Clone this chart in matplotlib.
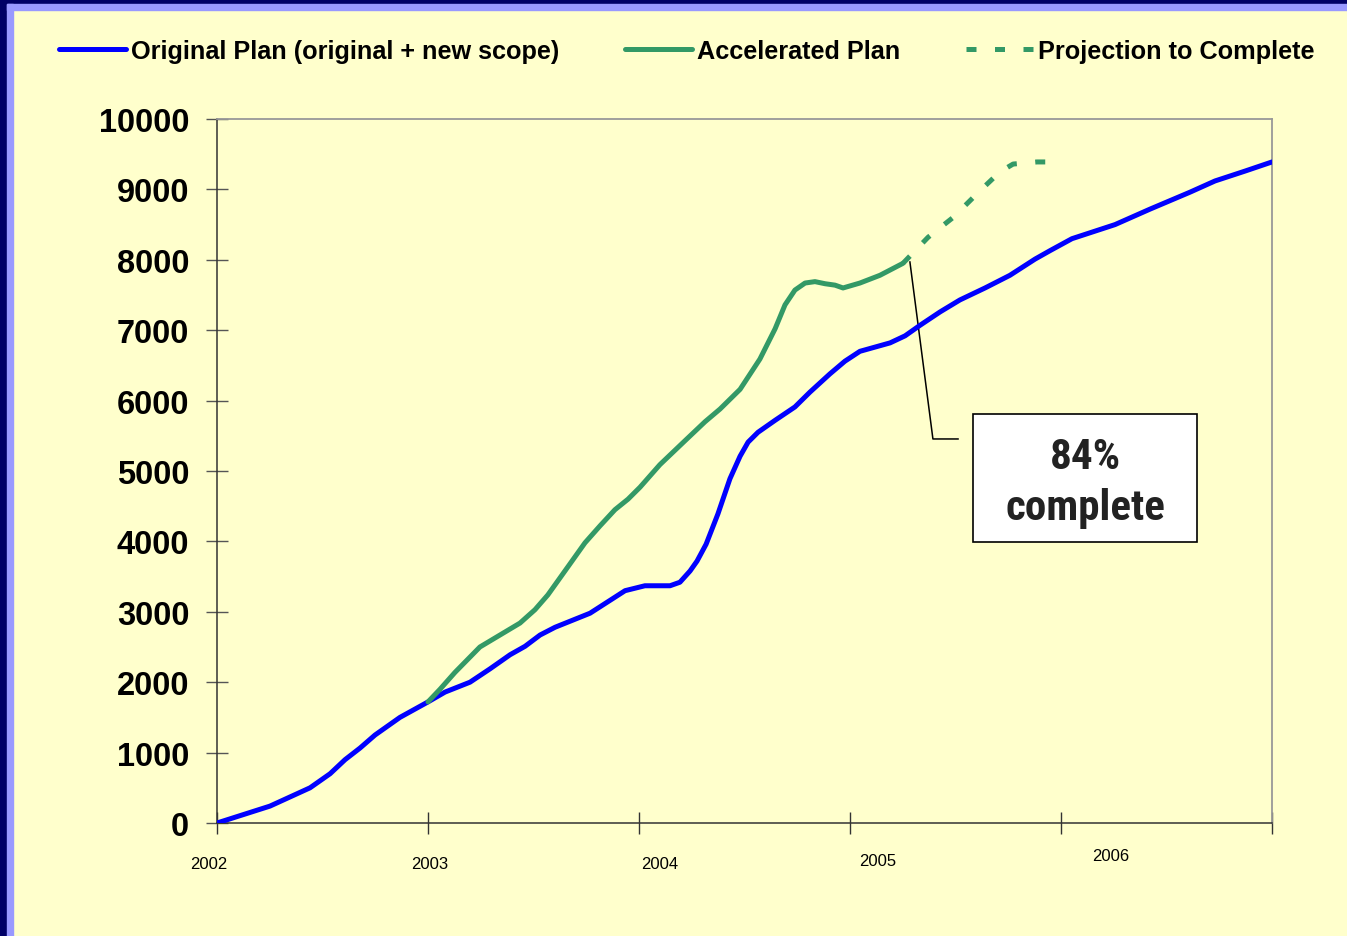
import matplotlib
matplotlib.use('Agg')
from matplotlib import pyplot as plt
from matplotlib.patches import Rectangle
from matplotlib.lines import Line2D
from matplotlib import font_manager

# --- data (time in years, cumulative count) ---
orig_t = [2002.000, 2002.251, 2002.441, 2002.536, 2002.607, 2002.678, 2002.749, 2002.867,
          2003.000, 2003.081, 2003.199, 2003.294, 2003.389, 2003.460, 2003.531, 2003.602,
          2003.768, 2003.934, 2004.028, 2004.147, 2004.194, 2004.242, 2004.275, 2004.318,
          2004.374, 2004.431, 2004.479, 2004.517, 2004.564, 2004.645, 2004.739, 2004.810,
          2004.905, 2004.976, 2005.047, 2005.190, 2005.261, 2005.332, 2005.427, 2005.521,
          2005.640, 2005.758, 2005.877, 2005.948, 2006.052, 2006.256, 2006.422, 2006.611,
          2006.730, 2006.872, 2007.000]
orig_v = [0, 240, 500, 700, 900, 1065, 1250, 1500,
          1720, 1860, 2000, 2190, 2390, 2510, 2670, 2780,
          2980, 3300, 3370, 3370, 3420, 3580, 3720, 3960,
          4390, 4890, 5210, 5410, 5550, 5720, 5910, 6120,
          6380, 6560, 6700, 6820, 6920, 7070, 7260, 7430,
          7600, 7780, 8010, 8130, 8300, 8500, 8720, 8960,
          9120, 9260, 9390]

accel_t = [2003.000, 2003.057, 2003.128, 2003.246, 2003.341, 2003.436, 2003.507, 2003.568,
           2003.649, 2003.744, 2003.815, 2003.886, 2003.948, 2004.005, 2004.099, 2004.218,
           2004.313, 2004.384, 2004.479, 2004.573, 2004.645, 2004.692, 2004.739, 2004.787,
           2004.834, 2004.882, 2004.929, 2004.967, 2005.047, 2005.142, 2005.251]
accel_v = [1720, 1900, 2140, 2500, 2670, 2840, 3030, 3240,
           3580, 3980, 4220, 4450, 4600, 4770, 5090, 5430,
           5700, 5880, 6160, 6590, 7020, 7360, 7570, 7670,
           7690, 7660, 7640, 7600, 7670, 7780, 7950]

proj_t = [2005.251, 2005.370, 2005.488, 2005.616, 2005.711, 2005.773, 2005.886, 2005.934]
proj_v = [7950, 8320, 8600, 8980, 9250, 9360, 9390, 9390]

year_ticks = [2002, 2003, 2004, 2005, 2006, 2007]
year_labels = ['2002', '2003', '2004', '2005', '2006']
# where the year captions sit (they are not centred on the ticks in the original)
year_label_x = [2001.962, 2003.009, 2004.100, 2005.133, 2006.237]
year_label_y = [-570, -570, -570, -530, -460]
y_ticks = list(range(0, 10001, 1000))

labels = ['Original Plan (original + new scope)', 'Accelerated Plan', 'Projection to Complete']

BG = '#FFFFCC'
BLUE = '#0000FF'
GREEN = '#339966'
SANS = ['Liberation Sans', 'DejaVu Sans']

# narrow bold face for the call-out, if one is around
names = set(f.name for f in font_manager.fontManager.ttflist)
NARROW = None
for cand in ['Liberation Sans Narrow', 'Arial Narrow', 'Roboto Condensed', 'Open Sans Condensed']:
    if cand in names:
        NARROW = cand
        break
if NARROW:
    box_font = dict(family=NARROW, fontsize=31)
else:
    box_font = dict(family='DejaVu Sans', fontstretch='condensed', fontsize=25)

W, H = 1347, 937
fig = plt.figure(figsize=(W / 100, H / 100), dpi=100, facecolor=BG)

# slide frame (navy + lavender edge on top and left)
fig.patches.append(Rectangle((0, 0), 7 / W, 1, transform=fig.transFigure, color='#000066', zorder=0))
fig.patches.append(Rectangle((0, 1 - 5 / H), 1, 5 / H, transform=fig.transFigure, color='#000066', zorder=0))
fig.patches.append(Rectangle((7 / W, 0), 6 / W, 1 - 5 / H, transform=fig.transFigure, color='#9999FF', zorder=0))
fig.patches.append(Rectangle((7 / W, 1 - 11 / H), 1, 6 / H, transform=fig.transFigure, color='#9999FF', zorder=0))

ax = fig.add_axes([217 / W, 113 / H, 1055 / W, 704 / H])
ax.set_facecolor(BG)

ax.plot(orig_t, orig_v, color=BLUE, lw=3.6, solid_capstyle='round', zorder=3)
ax.plot(accel_t, accel_v, color=GREEN, lw=3.6, solid_capstyle='round', zorder=3)
ax.plot(proj_t, proj_v, color=GREEN, lw=3.6, linestyle=(0, (2.0, 3.7)), zorder=3)

ax.set_xlim(2002, 2007)
ax.set_ylim(0, 10000)
ax.set_yticks(y_ticks)
ax.set_yticklabels([str(v) for v in y_ticks], fontsize=23.5, fontweight='bold', family=SANS)
ax.set_xticks(year_ticks)
ax.set_xticklabels([])
ax.tick_params(axis='y', direction='inout', length=16, width=1.0, color='#555555', pad=12)
ax.tick_params(axis='x', direction='inout', length=16, width=1.0, color='#333333')

for side in ['left', 'bottom']:
    ax.spines[side].set_color('#333333')
    ax.spines[side].set_linewidth(1.1)
for side in ['top', 'right']:
    ax.spines[side].set_color('#999999')
    ax.spines[side].set_linewidth(1.3)

for x, y, s in zip(year_label_x, year_label_y, year_labels):
    ax.text(x, y, s, fontsize=12, ha='center', va='center', clip_on=False, family=SANS)

# call-out box
ax.add_patch(Rectangle((2005.583, 3991), 1.062, 1819, facecolor='white',
                       edgecolor='black', lw=1.2, zorder=4))
ax.plot([accel_t[-1] + 0.033, 2005.393, 2005.512], [7969, 5455, 5455],
        color='black', lw=1.1, zorder=2)
ax.text(2006.114, 5213, '84%', fontweight='bold', color='#222222',
        ha='center', va='center', zorder=5, **box_font)
ax.text(2006.114, 4318, 'complete', fontweight='bold', color='#222222',
        ha='center', va='baseline', zorder=5, **box_font)

# legend across the top
handles = [Line2D([], [], color=BLUE, lw=3.6, solid_capstyle='round'),
           Line2D([], [], color=GREEN, lw=3.6, solid_capstyle='round'),
           Line2D([], [], color=GREEN, lw=3.6, linestyle=(0, (2.0, 3.7)))]
fig.legend(handles, labels, loc='center left', bbox_to_anchor=(46 / W, 1 - 52 / H),
           ncol=3, frameon=False, borderpad=0, handlelength=2.65, handletextpad=0.2,
           columnspacing=2.6, prop={'family': SANS, 'weight': 'bold', 'size': 18.2})

plt.savefig('out.png', dpi=100, facecolor=BG)
